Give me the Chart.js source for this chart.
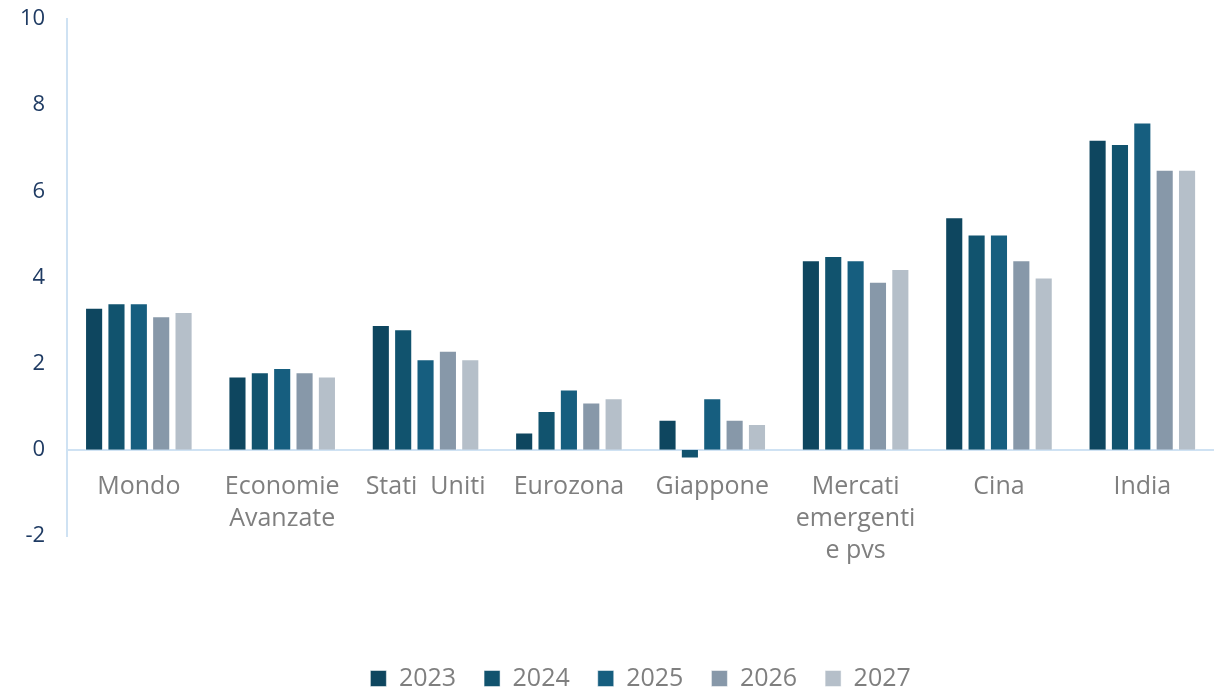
<!DOCTYPE html>
<html>
<head>
<meta charset="utf-8">
<script src="https://cdn.jsdelivr.net/npm/chart.js@4"></script>
<style>
  html, body { margin: 0; padding: 0; background: #fff; }
  #wrap { width: 1214px; height: 691px; }
</style>
</head>
<body>
<div id="wrap"><canvas id="pilChart"></canvas></div>
<script>
var categories = ["Mondo", ["Economie", "Avanzate"], "Stati  Uniti", "Eurozona", "Giappone",
                  ["Mercati", "emergenti", "e pvs"], "Cina", "India"];
var years = ["2023", "2024", "2025", "2026", "2027"];
var v2023 = [3.3, 1.7, 2.9, 0.4, 0.7, 4.4, 5.4, 7.2];
var v2024 = [3.4, 1.8, 2.8, 0.9, -0.2, 4.5, 5.0, 7.1];
var v2025 = [3.4, 1.9, 2.1, 1.4, 1.2, 4.4, 5.0, 7.6];
var v2026 = [3.1, 1.8, 2.3, 1.1, 0.7, 3.9, 4.4, 6.5];
var v2027 = [3.2, 1.7, 2.1, 1.2, 0.6, 4.2, 4.0, 6.5];
var yTicks = [-2, 0, 2, 4, 6, 8, 10];

var colors = ["#0e465f", "#11536e", "#165e7f", "#8798a9", "#b5bfc9"];
var series = [v2023, v2024, v2025, v2026, v2027];

var datasets = series.map(function (vals, i) {
  return {
    label: years[i],
    data: vals,
    backgroundColor: colors[i],
    borderColor: "rgba(255,255,255,0.5)",
    borderWidth: 1,
    categoryPercentage: 0.78,
    barPercentage: 0.81
  };
});

var fontFam = "'Open Sans', sans-serif";

new Chart(document.getElementById("pilChart"), {
  type: "bar",
  data: { labels: categories, datasets: datasets },
  options: {
    responsive: true,
    maintainAspectRatio: false,
    animation: false,
    layout: { padding: { top: 19, left: -2, right: 0, bottom: -10 } },
    plugins: {
      tooltip: { enabled: false },
      legend: {
        position: "bottom",
        fullSize: false,
        // empty title only pushes the legend down below the category labels
        title: { display: true, text: " ", font: { size: 10 }, padding: { top: 90, bottom: 0 } },
        labels: {
          boxWidth: 16,
          boxHeight: 16,
          padding: 28,
          color: "#7f7f7f",
          font: { family: fontFam, size: 25 }
        }
      }
    },
    scales: {
      x: {
        position: { y: 0 },
        grid: { display: false, drawTicks: false },
        border: { display: true, color: "#cfe2f3", width: 2 },
        ticks: {
          color: "#7f7f7f",
          autoSkip: false,
          maxRotation: 0,
          padding: 21,
          font: { family: fontFam, size: 25, lineHeight: 1.28 }
        }
      },
      y: {
        min: -2,
        max: 10,
        afterBuildTicks: function (axis) {
          axis.ticks = yTicks.map(function (v) { return { value: v }; });
        },
        afterFit: function (axis) {
          // tick padding is only meant as horizontal gap
          axis.paddingTop = 0;
        },
        grid: { display: false, drawTicks: false },
        border: { display: true, color: "#cfe2f3", width: 2 },
        ticks: {
          color: "#1f3b63",
          padding: 22,
          font: { family: fontFam, size: 22 }
        }
      }
    }
  }
});
</script>
</body>
</html>
